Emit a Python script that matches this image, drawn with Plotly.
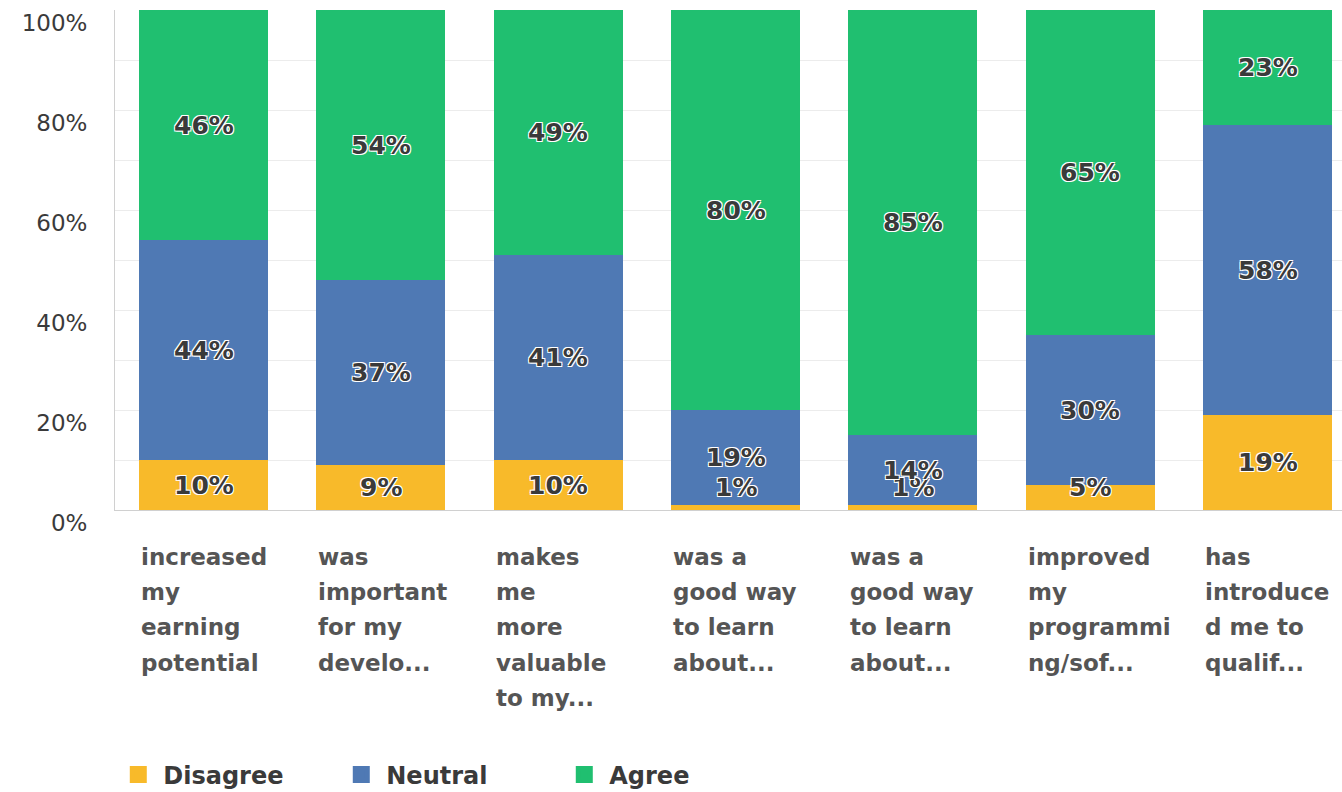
import plotly.graph_objects as go

categories = [
    "increased|my|earning|potential",
    "was|important|for my|develo...",
    "makes|me|more|valuable|to my...",
    "was a|good way|to learn|about...",
    "was a|good way|to learn|about...",
    "improved|my|programmi|ng/sof...",
    "has|introduce|d me to|qualif...",
]
series_names = ["Disagree", "Neutral", "Agree"]
disagree = [10, 9, 10, 1, 1, 5, 19]
neutral = [44, 37, 41, 19, 14, 30, 58]
agree = [46, 54, 49, 80, 85, 65, 23]
colors = ["#F8BA2A", "#4F79B4", "#20BF70"]
y_ticks = [0, 20, 40, 60, 80, 100]
y_ticktext = [f"{t}%" for t in y_ticks]

series = [disagree, neutral, agree]
xs = list(range(len(categories)))
FONT = "DejaVu Sans, Verdana, sans-serif"

fig = go.Figure()
for name, vals, col in zip(series_names, series, colors):
    fig.add_trace(go.Bar(
        x=xs, y=vals, name=name, marker=dict(color=col, line=dict(width=0)),
        hoverinfo="skip", showlegend=False,
    ))
# legend-only entries with bigger swatches
for name, col in zip(series_names, colors):
    fig.add_trace(go.Bar(
        x=[None], y=[None], name=name,
        marker=dict(color=col, line=dict(color=col, width=14)),
        showlegend=True, hoverinfo="skip",
    ))

outline = "1px 1px 0 #fff, -1px -1px 0 #fff, 1px -1px 0 #fff, -1px 1px 0 #fff"
annotations = []
for i in xs:
    base = 0
    for vals in series:
        v = vals[i]
        mid = max(base + v / 2, 4.6)
        annotations.append(dict(
            x=i, y=mid, xref="x", yref="y", text=f"{v}%", showarrow=False,
            font=dict(family=FONT, size=25, color="#3a3a3a", weight=700, shadow=outline),
            xanchor="center", yanchor="middle",
        ))
        base += v
    for j, line in enumerate(categories[i].split("|")):
        annotations.append(dict(
            x=i - 0.3638, y=-0.094 - 0.0705 * j, xref="x", yref="paper", text=line,
            showarrow=False, xanchor="left", yanchor="middle", align="left",
            font=dict(family=FONT, size=23, color="#555555", weight=700),
        ))

fig.update_layout(
    barmode="stack",
    bargap=0.2724,
    width=1342, height=792,
    margin=dict(l=115, r=0, t=10, b=282, autoexpand=False),
    plot_bgcolor="white", paper_bgcolor="white",
    annotations=annotations,
    showlegend=True,
    legend=dict(
        orientation="h", x=-0.0014, y=-0.53, xanchor="left", yanchor="middle",
        font=dict(family=FONT, size=24, color="#3a3a3a", weight=700),
        itemwidth=40, entrywidth=168, traceorder="normal",
    ),
    xaxis=dict(
        range=[-0.5, 6.42], showticklabels=False, showgrid=False, zeroline=False,
        showline=True, linecolor="#d0d0d0", linewidth=1, fixedrange=True,
    ),
    yaxis=dict(
        range=[0, 100], tickvals=y_ticks, ticktext=y_ticktext,
        showgrid=True, gridcolor="#ececec", gridwidth=1,
        minor=dict(dtick=10, showgrid=True, gridcolor="#ececec"),
        zeroline=False, showline=True, linecolor="#d0d0d0", linewidth=1,
        tickfont=dict(family=FONT, size=23, color="#3a3a3a"),
        ticklabelstandoff=22, ticklabelshift=13,
    ),
)

fig.write_html("out.html", config={"displayModeBar": False},
               post_script="document.body.style.margin='0';")
